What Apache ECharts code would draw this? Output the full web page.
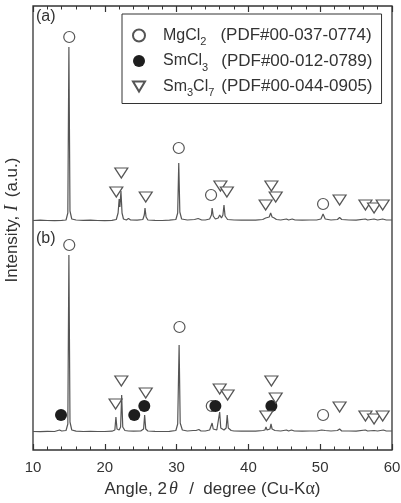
<!DOCTYPE html>
<html lang="en">
<head>
  <meta charset="UTF-8">
  <title>XRD patterns</title>
  <script src="https://cdn.jsdelivr.net/npm/echarts@6/dist/echarts.min.js"></script>
</head>
<body style="margin:0">
<div id="main" style="width: 401px;height: 503px"></div>
</body>
<script>

  var chart = echarts.init(document.getElementById('main'));

  // pattern (a), [2theta, relative intensity]
  var patternA = [[10,0.5],[11,0.8],[12,0.5],[13,0.3],[14,0.6],[14.6,1],[14.85,8],[15.0,174],[15.15,10],[15.4,2],[16,1],[17,0.6],[18,0.8],[19,0.5],[20,0.4],[21,0.6],[21.6,1.5],[21.85,8],[22.0,22],[22.1,14],[22.25,30],[22.4,8],[22.6,2],[23.0,1],[23.3,2.5],[23.6,1],[24.5,0.8],[25.3,1.5],[25.5,6],[25.6,13],[25.75,4],[26,1],[27,0.6],[28,0.5],[29,0.8],[29.9,1.5],[30.15,8],[30.3,58],[30.45,9],[30.7,2],[31.5,1],[32.5,1.5],[33,2.5],[33.5,1],[34,1],[34.6,2],[34.85,6],[34.95,13],[35.1,5],[35.4,2],[35.8,3],[36.0,6],[36.1,7],[36.25,3],[36.45,6],[36.6,16],[36.75,5],[37.1,1.5],[38,1],[39,0.8],[40,1],[41,0.8],[42,1.5],[42.4,3],[42.6,2],[42.9,4],[43.1,8],[43.3,4],[43.6,3],[43.9,1.5],[44.5,1],[45.3,2],[45.6,1],[46.1,2],[46.5,1],[47.5,0.8],[48.5,1],[49.5,1],[50.1,2],[50.4,7],[50.7,2],[51.5,1],[52.4,1.5],[52.7,3.5],[53,1.5],[54,1],[55,0.8],[56.3,2],[56.6,1],[57.5,2],[58,1],[58.7,2],[59.2,1],[60,1]];

  // pattern (b)
  var patternB = [[10,0.5],[11,0.4],[12,0.6],[13,0.5],[13.7,2],[14,1],[14.6,1.5],[14.85,8],[15.0,177],[15.15,10],[15.4,2],[16,0.8],[17,0.5],[18,0.6],[19,0.5],[20,0.5],[21,0.8],[21.4,2],[21.55,15],[21.7,3],[22.0,2],[22.2,5],[22.35,37],[22.5,5],[22.8,1.5],[23.3,1],[24,0.8],[25,1],[25.4,3],[25.55,17],[25.7,3],[26,1],[27,0.6],[28,0.5],[29,0.6],[29.9,1.5],[30.15,8],[30.35,87],[30.5,9],[30.8,2],[31.5,1],[32.3,1.5],[32.5,3],[32.7,1.5],[33.1,2.5],[33.4,1],[34,1],[34.6,2],[34.85,4],[34.95,9],[35.1,3],[35.6,2],[35.85,4],[36.0,20],[36.15,4],[36.6,2],[36.9,4],[37.05,17],[37.2,4],[37.6,1.5],[38,1],[39,0.8],[40,1],[41,0.8],[42,1.5],[42.3,2],[42.45,5],[42.6,2],[43.0,3],[43.15,8],[43.3,3],[43.5,4],[43.7,1.5],[44.5,1],[45.3,2],[45.6,1],[46.0,2],[46.4,1],[47.5,0.8],[48.5,1],[49.5,1],[50.2,2],[50.45,4],[50.7,1.5],[51.5,1],[52.4,1.5],[52.7,3],[53,1],[54,1],[55,0.8],[56.3,2],[56.6,1],[57.5,1.5],[58,1],[58.8,2],[59.2,1],[60,1]];

  var offsetA = 229;
  var offsetB = 18;

  // phase markers, [2theta, height]
  var mgcl2Marks = [[15.05,413],[30.3,302],[34.8,255],[50.4,246],
                    [15.05,205],[30.4,123],[34.9,44],[50.4,35]];
  var smcl3Marks = [[13.9,35],[24.1,35],[25.5,44],[35.4,44],[43.2,44]];
  var sm3cl7Marks = [[22.3,277],[21.6,258],[25.7,253],[36.1,264],[37.0,258],[43.2,264],[43.8,253],[42.4,245],[52.7,250],[56.3,245],[57.5,242],[58.7,245],
                     [21.5,46],[22.3,69],[25.7,57],[36.0,61],[37.1,55],[43.2,69],[43.8,52],[42.5,34],[52.7,43],[56.3,34],[57.5,31],[58.7,34]];

  var xTicks = [10, 20, 30, 40, 50, 60];

  function shift(arr, off) {
    return arr.map(function (p) { return [p[0], p[1] + off]; });
  }

  var ink = '#555';
  var sans = 'Liberation Sans';
  var serif = 'Liberation Serif';

  var legendText = {
    'MgCl2': '{lead| }{f|MgCl}{s|2}{g1| }{p|(PDF#00-037-0774)}',
    'SmCl3': '{lead| }{f|SmCl}{s|3}{g2| }{p|(PDF#00-012-0789)}',
    'Sm3Cl7': '{lead| }{f|Sm}{s|3}{f|Cl}{s|7}{g3| }{p|(PDF#00-044-0905)}'
  };

  var xAxisBase = {
    type: 'value',
    min: xTicks[0],
    max: xTicks[xTicks.length - 1],
    interval: 10,
    splitLine: {show: false},
    axisLine: {show: false},
    axisTick: {show: true, inside: true, length: 6, lineStyle: {color: '#333', width: 1.2}},
    minorTick: {show: true, splitNumber: 5, length: 3.5, lineStyle: {color: '#333', width: 1}}
  };

  option = {
    animation: false,
    grid: {
      left: 33, right: 9, top: 6, bottom: 53,
      outerBoundsMode: 'none',
      containLabel: false,
      show: true, borderColor: '#333', borderWidth: 1.3, backgroundColor: '#fff'
    },
    legend: {
      orient: 'vertical',
      left: 122, top: 14,
      padding: [13, 9, 5, 10],
      itemGap: 5,
      itemWidth: 12, itemHeight: 12,
      borderColor: '#333', borderWidth: 1,
      selectedMode: false,
      data: ['MgCl2', 'SmCl3', {name: 'Sm3Cl7', icon: 'path://M0,0L12,0L6,10Z'}],
      formatter: function (name) { return legendText[name]; },
      textStyle: {
        color: '#333', fontFamily: sans, fontSize: 16,
        rich: {
          lead: {width: 13, lineHeight: 24},
          f: {fontSize: 16, fontFamily: sans, color: '#333', lineHeight: 20, verticalAlign: 'middle'},
          p: {fontSize: 17, fontFamily: sans, color: '#333', lineHeight: 20, verticalAlign: 'middle'},
          s: {fontSize: 11, fontFamily: sans, color: '#333', lineHeight: 10, verticalAlign: 'bottom'},
          g1: {width: 14},
          g2: {width: 13},
          g3: {width: 7}
        }
      }
    },
    xAxis: [
      Object.assign({}, xAxisBase, {
        position: 'bottom',
        axisLabel: {color: '#333', fontFamily: sans, fontSize: 15, margin: 10},
        name: '{n|Angle, 2}{t|θ}{n|  /  degree (Cu-K}{a|α}{n|)}',
        nameLocation: 'middle',
        nameGap: 24,
        nameTextStyle: {
          rich: {
            n: {fontFamily: sans, fontSize: 17, color: '#333'},
            t: {fontFamily: serif, fontStyle: 'italic', fontSize: 18, color: '#333', padding: [0, 2, 0, 2]},
            a: {fontFamily: serif, fontSize: 18, color: '#333'}
          }
        }
      }),
      Object.assign({}, xAxisBase, {
        position: 'top',
        axisLabel: {show: false}
      })
    ],
    yAxis: {
      type: 'value',
      min: 0,
      max: 444,
      axisLine: {show: false},
      axisTick: {show: false},
      axisLabel: {show: false},
      splitLine: {show: false},
      name: '{n|Intensity, }{i|I}{n| (a.u.)}',
      nameLocation: 'middle',
      nameGap: 12,
      nameTextStyle: {
        padding: [0, 0, 0, 16],
        rich: {
          n: {fontFamily: sans, fontSize: 17, color: '#333'},
          i: {fontFamily: serif, fontStyle: 'italic', fontSize: 18, color: '#333', padding: [0, 3, 0, 0]}
        }
      }
    },
    graphic: [
      {type: 'text', left: 36, top: 9, style: {text: '(a)', fontFamily: sans, fontSize: 16, fill: '#333'}},
      {type: 'text', left: 36, top: 231, style: {text: '(b)', fontFamily: sans, fontSize: 16, fill: '#333'}}
    ],
    series: [
      {
        type: 'line', name: 'a', data: shift(patternA, offsetA),
        showSymbol: false, symbol: 'none',
        lineStyle: {color: ink, width: 1.2}
      },
      {
        type: 'line', name: 'b', data: shift(patternB, offsetB),
        showSymbol: false, symbol: 'none',
        lineStyle: {color: ink, width: 1.2}
      },
      {
        type: 'scatter', name: 'MgCl2', data: mgcl2Marks,
        symbol: 'circle', symbolSize: 11,
        itemStyle: {color: '#fff', borderColor: ink, borderWidth: 1.2, opacity: 1}
      },
      {
        type: 'scatter', name: 'SmCl3', data: smcl3Marks,
        symbol: 'circle', symbolSize: 12,
        itemStyle: {color: '#1e1e1e', opacity: 1}
      },
      {
        type: 'scatter', name: 'Sm3Cl7', data: sm3cl7Marks,
        symbol: 'triangle', symbolSize: [13, 10], symbolRotate: 180,
        itemStyle: {color: '#fff', borderColor: ink, borderWidth: 1.2, opacity: 1}
      }
    ]
  };

  chart.setOption(option);

</script>
</html>
